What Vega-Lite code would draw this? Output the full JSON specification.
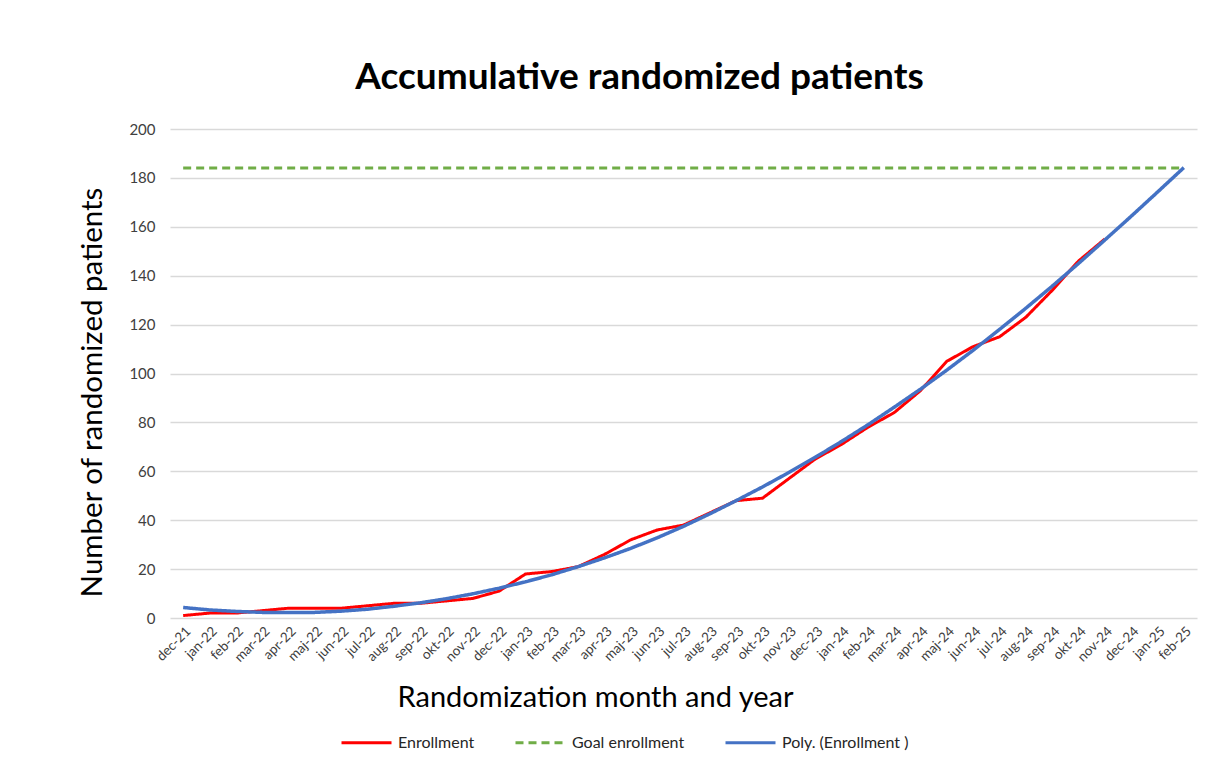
{
  "$schema": "https://vega.github.io/schema/vega-lite/v6.json",
  "width": 1027,
  "height": 489,
  "autosize": {"type": "none"},
  "padding": {"left": 170, "top": 129, "right": 33, "bottom": 150},
  "background": "white",
  "title": {
    "text": "Accumulative randomized patients",
    "font": "Lato",
    "fontSize": 37,
    "fontWeight": "bold",
    "color": "black",
    "anchor": "middle",
    "dx": -44,
    "offset": 25
  },
  "datasets": {
    "enroll": [
      {"month": "dec-21", "value": 1},
      {"month": "jan-22", "value": 2},
      {"month": "feb-22", "value": 2},
      {"month": "mar-22", "value": 3},
      {"month": "apr-22", "value": 4},
      {"month": "maj-22", "value": 4},
      {"month": "jun-22", "value": 4},
      {"month": "jul-22", "value": 5},
      {"month": "aug-22", "value": 6},
      {"month": "sep-22", "value": 6},
      {"month": "okt-22", "value": 7},
      {"month": "nov-22", "value": 8},
      {"month": "dec-22", "value": 11},
      {"month": "jan-23", "value": 18},
      {"month": "feb-23", "value": 19},
      {"month": "mar-23", "value": 21},
      {"month": "apr-23", "value": 26},
      {"month": "maj-23", "value": 32},
      {"month": "jun-23", "value": 36},
      {"month": "jul-23", "value": 38},
      {"month": "aug-23", "value": 43},
      {"month": "sep-23", "value": 48},
      {"month": "okt-23", "value": 49},
      {"month": "nov-23", "value": 57},
      {"month": "dec-23", "value": 65},
      {"month": "jan-24", "value": 71},
      {"month": "feb-24", "value": 78},
      {"month": "mar-24", "value": 84},
      {"month": "apr-24", "value": 93},
      {"month": "maj-24", "value": 105},
      {"month": "jun-24", "value": 111},
      {"month": "jul-24", "value": 115},
      {"month": "aug-24", "value": 123},
      {"month": "sep-24", "value": 134},
      {"month": "okt-24", "value": 146},
      {"month": "nov-24", "value": 155}
    ],
    "poly": [
      {"month": "dec-21", "value": 4.3},
      {"month": "jan-22", "value": 3.3},
      {"month": "feb-22", "value": 2.7},
      {"month": "mar-22", "value": 2.3},
      {"month": "apr-22", "value": 2.2},
      {"month": "maj-22", "value": 2.3},
      {"month": "jun-22", "value": 2.8},
      {"month": "jul-22", "value": 3.6},
      {"month": "aug-22", "value": 4.8},
      {"month": "sep-22", "value": 6.2},
      {"month": "okt-22", "value": 7.9},
      {"month": "nov-22", "value": 9.9},
      {"month": "dec-22", "value": 12.2},
      {"month": "jan-23", "value": 14.8},
      {"month": "feb-23", "value": 17.7},
      {"month": "mar-23", "value": 21},
      {"month": "apr-23", "value": 24.6},
      {"month": "maj-23", "value": 28.5},
      {"month": "jun-23", "value": 32.8},
      {"month": "jul-23", "value": 37.5},
      {"month": "aug-23", "value": 42.6},
      {"month": "sep-23", "value": 48},
      {"month": "okt-23", "value": 53.6},
      {"month": "nov-23", "value": 59.5},
      {"month": "dec-23", "value": 65.7},
      {"month": "jan-24", "value": 72.2},
      {"month": "feb-24", "value": 79},
      {"month": "mar-24", "value": 86.2},
      {"month": "apr-24", "value": 93.6},
      {"month": "maj-24", "value": 101.4},
      {"month": "jun-24", "value": 109.5},
      {"month": "jul-24", "value": 118},
      {"month": "aug-24", "value": 126.7},
      {"month": "sep-24", "value": 135.7},
      {"month": "okt-24", "value": 145},
      {"month": "nov-24", "value": 154.6},
      {"month": "dec-24", "value": 164.3},
      {"month": "jan-25", "value": 174.2},
      {"month": "feb-25", "value": 184.2}
    ],
    "goal": [
      {"month": "dec-21", "value": 184},
      {"month": "feb-25", "value": 184}
    ]
  },
  "encoding": {
    "x": {
      "field": "month",
      "type": "ordinal",
      "sort": ["dec-21","jan-22","feb-22","mar-22","apr-22","maj-22","jun-22","jul-22","aug-22","sep-22","okt-22","nov-22","dec-22","jan-23","feb-23","mar-23","apr-23","maj-23","jun-23","jul-23","aug-23","sep-23","okt-23","nov-23","dec-23","jan-24","feb-24","mar-24","apr-24","maj-24","jun-24","jul-24","aug-24","sep-24","okt-24","nov-24","dec-24","jan-25","feb-25"],
      "scale": {"type": "point", "padding": 0.5},
      "axis": {
        "title": "Randomization month and year",
        "titleFont": "Lato",
        "titleFontSize": 29,
        "titleFontWeight": "normal",
        "titleColor": "black",
        "titleX": 425,
        "titleY": 79,
        "titleAlign": "center",
        "titleBaseline": "middle",
        "labelAngle": -45,
        "labelFont": "Lato",
        "labelFontSize": 13.5,
        "labelColor": "#404040",
        "labelPadding": 6,
        "ticks": false,
        "domain": false,
        "grid": false,
        "labelOverlap": false
      }
    },
    "y": {
      "field": "value",
      "type": "quantitative",
      "scale": {"domain": [0, 200], "nice": false},
      "axis": {
        "title": "Number of randomized patients",
        "titleFont": "Lato",
        "titleFontSize": 29.5,
        "titleFontWeight": "normal",
        "titleColor": "black",
        "titleX": -78,
        "titleY": 263,
        "titleAngle": -90,
        "titleAlign": "center",
        "titleBaseline": "middle",
        "values": [0,20,40,60,80,100,120,140,160,180,200],
        "labelFont": "Lato",
        "labelFontSize": 15,
        "labelColor": "#404040",
        "labelPadding": 15,
        "ticks": false,
        "domain": false,
        "grid": true,
        "gridColor": "#D9D9D9",
        "gridWidth": 1.3
      }
    },
    "color": {
      "field": "series",
      "type": "nominal",
      "scale": {
        "domain": ["Enrollment", "Goal enrollment", "Poly. (Enrollment )"],
        "range": ["#FF0000", "#70AD47", "#4472C4"]
      },
      "legend": {
        "title": null,
        "orient": "none",
        "direction": "horizontal",
        "legendX": 170,
        "legendY": 587,
        "symbolType": "stroke",
        "symbolSize": 2500,
        "symbolStrokeWidth": 3,
        "labelFont": "Lato",
        "labelFontSize": 16,
        "labelColor": "#262626",
        "labelOffset": 5,
        "columnPadding": 34
      }
    },
    "strokeDash": {
      "field": "series",
      "type": "nominal",
      "scale": {
        "domain": ["Enrollment", "Goal enrollment", "Poly. (Enrollment )"],
        "range": [[1, 0], [8, 5], [1, 0]]
      },
      "legend": {
        "title": null,
        "orient": "none",
        "direction": "horizontal",
        "legendX": 170,
        "legendY": 587,
        "symbolType": "stroke",
        "symbolSize": 2500,
        "symbolStrokeWidth": 3,
        "labelFont": "Lato",
        "labelFontSize": 16,
        "labelColor": "#262626",
        "labelOffset": 5,
        "columnPadding": 34
      }
    }
  },
  "layer": [
    {
      "data": {"name": "goal"},
      "transform": [{"calculate": "'Goal enrollment'", "as": "series"}],
      "mark": {"type": "line", "strokeWidth": 3}
    },
    {
      "data": {"name": "enroll"},
      "transform": [{"calculate": "'Enrollment'", "as": "series"}],
      "mark": {"type": "line", "strokeWidth": 3}
    },
    {
      "data": {"name": "poly"},
      "transform": [{"calculate": "'Poly. (Enrollment )'", "as": "series"}],
      "mark": {"type": "line", "strokeWidth": 3.5}
    }
  ],
  "config": {
    "view": {"stroke": null},
    "font": "Lato"
  }
}
